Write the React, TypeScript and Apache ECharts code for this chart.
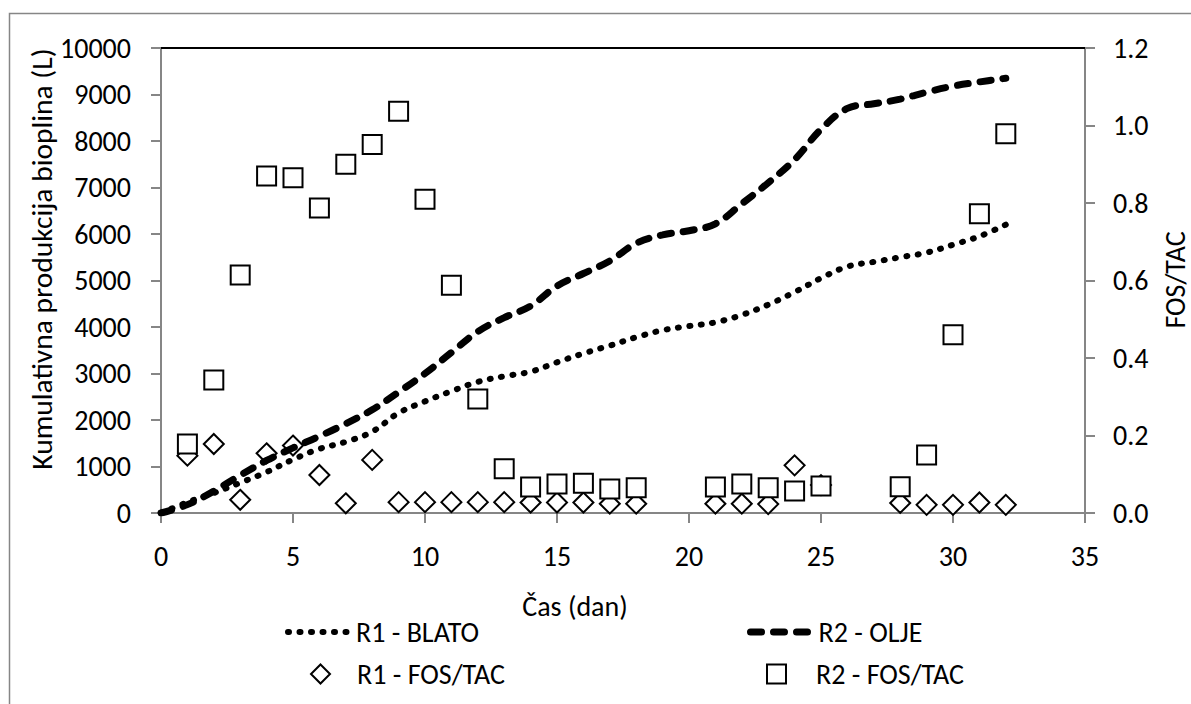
import React, { useEffect, useRef } from "react";
import * as echarts from "echarts";

const FONT = "Carlito, Calibri, 'Liberation Sans Narrow', 'Open Sans', sans-serif";

// Cumulative biogas production (L), daily
const lineDays = [0, 1, 2, 3, 4, 5, 6, 7, 8, 9, 10, 11, 12, 13, 14, 15, 16, 17, 18, 19, 20, 21, 22, 23, 24, 25, 26, 27, 28, 29, 30, 31, 32];
const r1Blato = [0, 230, 430, 650, 880, 1150, 1380, 1530, 1750, 2150, 2400, 2620, 2820, 2940, 3040, 3240, 3430, 3600, 3780, 3930, 4020, 4100, 4260, 4480, 4750, 5050, 5300, 5400, 5500, 5600, 5770, 5950, 6200];
const r2Olje = [0, 180, 470, 810, 1130, 1400, 1650, 1920, 2220, 2600, 3000, 3450, 3900, 4200, 4450, 4880, 5150, 5420, 5800, 5980, 6070, 6220, 6650, 7100, 7600, 8250, 8700, 8800, 8900, 9050, 9180, 9270, 9350];

// FOS/TAC measurements
const fosDays = [1, 2, 3, 4, 5, 6, 7, 8, 9, 10, 11, 12, 13, 14, 15, 16, 17, 18, 21, 22, 23, 24, 25, 28, 29, 30, 31, 32];
const r1Fos = [0.148, 0.178, 0.034, 0.154, 0.174, 0.098, 0.025, 0.137, 0.028, 0.028, 0.028, 0.028, 0.028, 0.027, 0.027, 0.027, 0.024, 0.024, 0.024, 0.024, 0.023, 0.123, 0.072, 0.026, 0.021, 0.021, 0.027, 0.021];
const r2Fos = [0.178, 0.343, 0.614, 0.87, 0.865, 0.787, 0.9, 0.951, 1.037, 0.81, 0.588, 0.294, 0.114, 0.067, 0.075, 0.077, 0.062, 0.065, 0.067, 0.075, 0.065, 0.057, 0.07, 0.068, 0.15, 0.46, 0.772, 0.979];

const NAMES = ["R1 - BLATO", "R2 - OLJE", "R1 - FOS/TAC", "R2 - FOS/TAC"];

export default function App() {
  const ref = useRef<HTMLDivElement>(null);
  useEffect(() => {
    document.body.style.margin = "0";
    const chart = echarts.init(ref.current!, null, { renderer: "svg" });
    const gray = "#868686";
    const txt = { color: "#000", fontSize: 28, fontFamily: FONT };
    const dotted = { color: "#000", width: 6, type: [1, 10.5], cap: "round" };
    const dashed = { color: "#000", width: 7, type: [11, 12], cap: "round" };
    const hidden = { color: "rgba(0,0,0,0)", borderColor: "rgba(0,0,0,0)", borderWidth: 0, opacity: 0 };
    const lineLegend = (ls: any) => ({
      orient: "horizontal",
      itemWidth: 60,
      itemHeight: 19,
      itemGap: 0,
      textStyle: { ...txt, padding: [0, 0, 0, 3] },
      selectedMode: false,
      itemStyle: hidden,
      lineStyle: ls,
    });
    const symLegend = (pad: number) => ({
      orient: "horizontal",
      itemWidth: 19,
      itemHeight: 19,
      itemGap: 0,
      textStyle: { ...txt, padding: [0, 0, 0, pad] },
      selectedMode: false,
    });
    chart.setOption({
      animation: false,
      backgroundColor: "#fff",
      grid: { left: 161, top: 48, right: 106, bottom: 191, containLabel: false },
      xAxis: [
        {
          type: "value",
          min: 0,
          max: 35,
          interval: 5,
          position: "bottom",
          axisLine: { onZero: false, lineStyle: { color: gray, width: 2 } },
          axisTick: { show: true, inside: false, length: 10, lineStyle: { color: gray, width: 2 } },
          axisLabel: { ...txt, margin: 29 },
          splitLine: { show: false },
        },
        {
          type: "value",
          min: 0,
          max: 35,
          position: "top",
          axisLine: { show: true, onZero: false, lineStyle: { color: "#000", width: 2 } },
          axisTick: { show: false },
          axisLabel: { show: false },
          splitLine: { show: false },
        },
      ],
      yAxis: [
        {
          type: "value",
          min: 0,
          max: 10000,
          interval: 1000,
          position: "left",
          axisLine: { show: true, onZero: false, lineStyle: { color: gray, width: 2 } },
          axisTick: { show: true, length: 10, lineStyle: { color: gray, width: 2 } },
          axisLabel: { ...txt, margin: 30, formatter: (v: number) => String(v) },
          splitLine: { show: false },
        },
        {
          type: "value",
          min: 0,
          max: 1.2,
          interval: 0.2,
          position: "right",
          axisLine: { show: true, onZero: false, lineStyle: { color: gray, width: 2 } },
          axisTick: { show: true, length: 10, lineStyle: { color: gray, width: 2 } },
          axisLabel: { ...txt, margin: 28, formatter: (v: number) => v.toFixed(1) },
          splitLine: { show: false },
        },
      ],
      legend: [
        { ...lineLegend(dotted), data: [NAMES[0]], left: 280, top: 613 },
        { ...lineLegend(dashed), data: [NAMES[1]], left: 742, top: 613 },
        { ...symLegend(22), data: [NAMES[2]], left: 305, top: 655 },
        { ...symLegend(25), data: [NAMES[3]], left: 761, top: 655 },
      ],
      graphic: [
        {
          type: "rect",
          shape: { x: 9.5, y: 13.5, width: 1400, height: 900 },
          style: { fill: "none", stroke: gray, lineWidth: 1.5 },
          silent: true,
          z: -10,
        },
        {
          type: "text",
          x: 42,
          y: 259,
          rotation: Math.PI / 2,
          style: {
            text: "Kumulativna produkcija bioplina (L)",
            fontSize: 29.5,
            fontFamily: FONT,
            fill: "#000",
            align: "center",
            verticalAlign: "middle",
          },
        },
        {
          type: "text",
          x: 1175,
          y: 280,
          rotation: Math.PI / 2,
          style: {
            text: "FOS/TAC",
            fontSize: 28,
            fontFamily: FONT,
            fill: "#000",
            align: "center",
            verticalAlign: "middle",
          },
        },
        {
          type: "text",
          x: 575,
          y: 606,
          style: {
            text: "Čas (dan)",
            fontSize: 28,
            fontFamily: FONT,
            fill: "#000",
            align: "center",
            verticalAlign: "middle",
          },
        },
      ],
      series: [
        {
          name: NAMES[2],
          type: "scatter",
          xAxisIndex: 0,
          yAxisIndex: 1,
          data: fosDays.map((d, i) => [d, r1Fos[i]]),
          symbol: "diamond",
          symbolSize: [20, 20],
          itemStyle: { color: "#fff", borderColor: "#000", borderWidth: 2, opacity: 1 },
          z: 2,
        },
        {
          name: NAMES[3],
          type: "scatter",
          xAxisIndex: 0,
          yAxisIndex: 1,
          data: fosDays.map((d, i) => [d, r2Fos[i]]),
          symbol: "rect",
          symbolSize: 19,
          itemStyle: { color: "#fff", borderColor: "#000", borderWidth: 2, opacity: 1 },
          z: 3,
        },
        {
          name: NAMES[0],
          type: "line",
          xAxisIndex: 0,
          yAxisIndex: 0,
          data: lineDays.map((d, i) => [d, r1Blato[i]]),
          symbol: "none",
          smooth: 0.4,
          itemStyle: { color: "#000" },
          lineStyle: dotted,
          z: 4,
        },
        {
          name: NAMES[1],
          type: "line",
          xAxisIndex: 0,
          yAxisIndex: 0,
          data: lineDays.map((d, i) => [d, r2Olje[i]]),
          symbol: "none",
          smooth: 0.4,
          itemStyle: { color: "#000" },
          lineStyle: dashed,
          z: 4,
        },
      ],
    });
    return () => chart.dispose();
  }, []);
  return <div ref={ref} style={{ width: 1191, height: 704 }} />;
}
